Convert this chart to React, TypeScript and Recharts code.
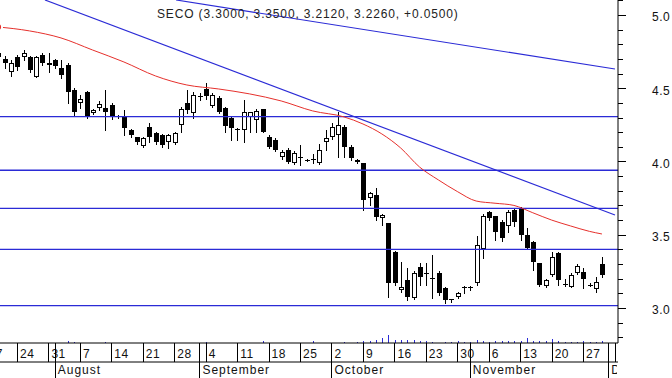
import { Bar, ComposedChart, Line, ReferenceLine, XAxis, YAxis } from "recharts";

// trading-day index i = 0 is Jul 19; one entry per session up to Nov 30
const open = [
  4.74, 4.7, 4.61, 4.71, 4.71, 4.71, 4.577, 4.727, 4.672, 4.69,
  4.638, 4.659, 4.488, 4.399, 4.474, 4.331, 4.365, 4.365, 4.386, 4.31,
  4.304, 4.215, 4.167, 4.106, 4.235, 4.195, 4.18, 4.133, 4.126, 4.249,
  4.4, 4.331, 4.44, 4.495, 4.379, 4.433, 4.365, 4.297, 4.215, 4.215,
  4.304, 4.28, 4.358, 4.167, 4.147, 4.031, 4.078, 3.99, 4.03, 4.01,
  4.01, 3.99, 4.133, 4.167, 4.18, 4.235, 4.099, 4.01, 3.99, 3.751,
  3.771, 3.614, 3.58, 3.382, 3.123, 3.191, 3.068, 3.28, 3.24, 3.205,
  3.239, 3.137, 3.055, 3.075, 3.137, 3.137, 3.171, 3.403, 3.655, 3.628,
  3.587, 3.56, 3.669, 3.683, 3.498, 3.451, 3.307, 3.15, 3.225, 3.375,
  3.164, 3.143, 3.239, 3.246, 3.157, 3.13, 3.3,
];
const high = [
  4.76, 4.72, 4.69, 4.73, 4.76, 4.72, 4.72, 4.74, 4.741, 4.7,
  4.693, 4.67, 4.5, 4.454, 4.48, 4.36, 4.41, 4.488, 4.4, 4.32,
  4.35, 4.22, 4.17, 4.17, 4.263, 4.2, 4.19, 4.19, 4.2, 4.37,
  4.488, 4.474, 4.47, 4.536, 4.47, 4.45, 4.37, 4.31, 4.229, 4.42,
  4.34, 4.36, 4.36, 4.18, 4.16, 4.08, 4.09, 4.07, 4.11, 4.02,
  4.05, 4.12, 4.215, 4.26, 4.338, 4.25, 4.11, 4.02, 3.99, 3.79,
  3.819, 3.64, 3.58, 3.39, 3.314, 3.273, 3.25, 3.307, 3.307, 3.36,
  3.25, 3.14, 3.06, 3.11, 3.15, 3.15, 3.491, 3.64, 3.66, 3.63,
  3.6, 3.67, 3.683, 3.69, 3.546, 3.46, 3.31, 3.2, 3.382, 3.382,
  3.2, 3.24, 3.3, 3.27, 3.17, 3.212, 3.35,
];
const low = [
  4.7, 4.64, 4.58, 4.625, 4.69, 4.61, 4.577, 4.66, 4.611, 4.64,
  4.57, 4.4, 4.32, 4.365, 4.3, 4.325, 4.35, 4.215, 4.29, 4.3,
  4.18, 4.17, 4.12, 4.1, 4.133, 4.12, 4.1, 4.092, 4.12, 4.2,
  4.33, 4.297, 4.42, 4.427, 4.37, 4.33, 4.2, 4.147, 4.147, 4.133,
  4.2, 4.2, 4.2, 4.09, 4.07, 4.02, 3.99, 3.98, 3.976, 4.0,
  3.99, 3.98, 4.078, 4.15, 4.03, 4.031, 4.01, 3.99, 3.669, 3.703,
  3.6, 3.567, 3.075, 3.16, 3.109, 3.055, 3.06, 3.157, 3.157, 3.068,
  3.09, 3.034, 3.04, 3.068, 3.1, 3.12, 3.16, 3.341, 3.6, 3.464,
  3.46, 3.52, 3.56, 3.464, 3.4, 3.259, 3.15, 3.14, 3.22, 3.16,
  3.15, 3.14, 3.23, 3.137, 3.15, 3.109, 3.212,
];
const close = [
  4.71, 4.67, 4.67, 4.645, 4.74, 4.625, 4.713, 4.672, 4.659, 4.65,
  4.59, 4.474, 4.338, 4.427, 4.304, 4.352, 4.39, 4.338, 4.304, 4.312,
  4.229, 4.18, 4.133, 4.16, 4.167, 4.133, 4.113, 4.181, 4.195, 4.358,
  4.352, 4.454, 4.445, 4.447, 4.454, 4.338, 4.242, 4.229, 4.22, 4.338,
  4.338, 4.345, 4.201, 4.099, 4.078, 4.065, 3.997, 4.058, 4.025, 4.012,
  4.015, 4.078, 4.16, 4.235, 4.25, 4.099, 4.024, 3.997, 3.737, 3.785,
  3.621, 3.635, 3.171, 3.171, 3.143, 3.075, 3.239, 3.212, 3.235, 3.208,
  3.102, 3.055, 3.058, 3.102, 3.14, 3.14, 3.43, 3.628, 3.614, 3.519,
  3.478, 3.655, 3.587, 3.498, 3.41, 3.314, 3.157, 3.191, 3.348, 3.191,
  3.166, 3.225, 3.287, 3.198, 3.159, 3.178, 3.226,
];
// moving average, every few sessions
const ma = [
  4.918, null, null, null, null, 4.891, null, null, null, null,
  4.843, null, null, null, null, 4.761, null, null, null, null,
  4.679, null, null, null, null, 4.584, null, null, null, null,
  4.522, null, null, null, null, 4.495, null, null, null, null,
  4.461, null, null, null, null, 4.413, null, null, null, null,
  4.345, null, null, null, null, 4.304, null, null, 4.256, null,
  null, 4.188, null, null, 4.092, null, null, 3.962, null, null,
  3.874, null, null, 3.795, null, null, 3.73, null, null, 3.715,
  null, null, 3.7, null, null, 3.65, null, null, 3.6, null,
  null, 3.56, null, null, 3.523, null, 3.505,
];
// volume (thousands)
const volume = [
  0, 0, 0, 0, 0, 0, 0, 0, 0, 0,
  0, 80, 40, 0, 0, 0, 0, 40, 0, 0,
  0, 0, 0, 0, 0, 0, 0, 0, 0, 0,
  0, 0, 0, 40, 0, 0, 0, 0, 0, 0,
  0, 0, 80, 0, 0, 0, 0, 0, 0, 0,
  80, 0, 0, 0, 0, 40, 0, 40, 80, 80,
  120, 200, 320, 120, 120, 120, 120, 80, 80, 40,
  0, 40, 40, 80, 40, 40, 120, 80, 40, 80,
  80, 80, 80, 80, 200, 80, 80, 80, 160, 80,
  40, 40, 40, 80, 40, 40, 80,
];

const weekTicks = [-2, 3, 8, 13, 18, 23, 28, 33, 38, 43, 48, 53, 58, 63, 68, 73, 78, 83, 88, 93, 98];
const weekLabels = ["17", "24", "31", "7", "14", "21", "28", "4", "11", "18", "25", "2", "9", "16", "23", "30", "6", "13", "20", "27", "4"];
const monthTicks = [9, 32, 53, 75, 97];
const monthLabels = ["August", "September", "October", "November", "December"];
const priceTicks = [
  2.8, 2.9, 3.0, 3.1, 3.2, 3.3, 3.4, 3.5, 3.6, 3.7, 3.8, 3.9,
  4.0, 4.1, 4.2, 4.3, 4.4, 4.5, 4.6, 4.7, 4.8, 4.9, 5.0, 5.1,
];
const levels = [4.306, 3.94, 3.68, 3.4, 3.016];
const upperTrend = [{ i: 28.3, v: 5.102 }, { i: 98.07, v: 4.631 }];
const lowerTrend = [{ i: 7.45, v: 5.102 }, { i: 98.07, v: 3.635 }];
const title = "SECO (3.3000, 3.3500, 3.2120, 3.2260, +0.0500)";

const data = open.map((o, i) => ({
  i,
  o,
  h: high[i],
  l: low[i],
  c: close[i],
  ma: ma[i],
  vol: volume[i],
}));

const FONT = "'Liberation Sans', Arial, sans-serif";
const BLUE = "#2b2bd6";
const RED = "#e6302c";
const X_DOMAIN = [0.3, 98.55];
const PLOT_RIGHT = 618;

function Candle(props: any) {
  const { x, y, width, height, payload } = props;
  if (!payload || !Number.isFinite(x) || !Number.isFinite(y)) return null;
  const top = Math.min(y, y + height);
  const bottom = Math.max(y, y + height);
  const { o, h, l, c } = payload;
  const span = h - l;
  const py = (v: number) => (span > 0 ? top + ((h - v) / span) * (bottom - top) : top);
  const cx = Math.round(x + width / 2);
  const bTop = Math.round(py(Math.max(o, c)));
  const bBot = Math.round(py(Math.min(o, c)));
  const bh = Math.max(1, bBot - bTop);
  const up = c > o;
  return (
    <g>
      <line x1={cx + 0.5} x2={cx + 0.5} y1={Math.round(top)} y2={Math.round(bottom) + 1} stroke="#000" />
      {up && bh > 2 ? (
        <rect x={cx - 1.5} y={bTop + 0.5} width={4} height={bh - 1} fill="#fff" stroke="#000" />
      ) : (
        <rect x={cx - 2} y={bTop} width={5} height={bh} fill="#000" />
      )}
    </g>
  );
}

function VolBar(props: any) {
  const { x, y, width, height } = props;
  if (!Number.isFinite(x) || !height) return null;
  return <rect x={Math.round(x + width / 2)} y={y} width={1} height={height} fill={BLUE} />;
}

function DayTick(props: any) {
  const { x, y, payload } = props;
  const k = weekTicks.indexOf(payload.value);
  const xx = Math.round(x) + 0.5;
  const id = `dayclip${k}`;
  return (
    <g>
      <defs>
        <clipPath id={id}>
          <rect x={0} y={y} width={PLOT_RIGHT - 1} height={19} />
        </clipPath>
      </defs>
      <line x1={xx} x2={xx} y1={y} y2={y + 19} stroke="#000" />
      <text x={x + 3} y={y + 15} fontSize={12} fontFamily={FONT} fill="#111" letterSpacing={0.5} clipPath={`url(#${id})`}>
        {weekLabels[k] ?? ""}
      </text>
    </g>
  );
}

function MonthTick(props: any) {
  const { x, y, payload } = props;
  const k = monthTicks.indexOf(payload.value);
  const xx = Math.round(x) + 0.5;
  const id = `monthclip${k}`;
  return (
    <g>
      <defs>
        <clipPath id={id}>
          <rect x={0} y={y} width={PLOT_RIGHT - 1} height={16} />
        </clipPath>
      </defs>
      <line x1={xx} x2={xx} y1={y - 19} y2={y + 16} stroke="#000" />
      <text x={x + 3} y={y + 12} fontSize={12} fontFamily={FONT} fill="#111" letterSpacing={1} clipPath={`url(#${id})`}>
        {monthLabels[k] ?? ""}
      </text>
    </g>
  );
}

function PriceTick(props: any) {
  const { x, y, payload } = props;
  const v = payload.value;
  const major = Math.abs(v * 2 - Math.round(v * 2)) < 1e-6;
  const yy = Math.round(y) + 0.5;
  return (
    <g>
      <line x1={x} x2={x + (major ? 8 : 5)} y1={yy} y2={yy} stroke="#000" />
      {major && (
        <text x={x + 34} y={y + 6.5} fontSize={12} fontFamily={FONT} fill="#111" letterSpacing={0.5}>
          {v.toFixed(1)}
        </text>
      )}
    </g>
  );
}

export default function App() {
  return (
    <div style={{ position: "absolute", left: 0, top: 0, width: 672, height: 378, background: "#fff" }}>
      <ComposedChart
        width={672}
        height={378}
        data={data}
        margin={{ top: 0, right: 0, bottom: 0, left: 0 }}
        style={{ fontFamily: FONT }}
      >
        <XAxis
          xAxisId="day"
          dataKey="i"
          type="number"
          domain={X_DOMAIN}
          allowDataOverflow
          ticks={weekTicks}
          interval={0}
          height={19}
          tickSize={0}
          tickMargin={0}
          tickLine={false}
          axisLine={{ stroke: "#000" }}
          tick={DayTick}
        />
        <XAxis
          xAxisId="month"
          dataKey="i"
          type="number"
          domain={X_DOMAIN}
          allowDataOverflow
          ticks={monthTicks}
          interval={0}
          height={16}
          tickSize={0}
          tickMargin={0}
          tickLine={false}
          axisLine={{ stroke: "#000" }}
          tick={MonthTick}
        />
        <XAxis xAxisId="vol" dataKey="i" type="number" domain={X_DOMAIN} allowDataOverflow hide />
        <YAxis
          yAxisId="price"
          orientation="right"
          width={54}
          domain={[2.761, 5.102]}
          allowDataOverflow
          ticks={priceTicks}
          interval={0}
          tickSize={0}
          tickMargin={0}
          tickLine={false}
          axisLine={{ stroke: "#000" }}
          tick={PriceTick}
        />
        <YAxis yAxisId="vol" domain={[0, 13720]} allowDataOverflow hide />

        {levels.map((v) => (
          <ReferenceLine key={v} xAxisId="day" yAxisId="price" y={v} stroke={BLUE} strokeWidth={1.3} />
        ))}
        {[upperTrend, lowerTrend].map((t, k) => (
          <ReferenceLine
            key={k}
            xAxisId="day"
            yAxisId="price"
            segment={[{ x: t[0].i, y: t[0].v }, { x: t[1].i, y: t[1].v }]}
            ifOverflow="hidden"
            stroke={BLUE}
            strokeWidth={1.2}
          />
        ))}

        <Bar
          xAxisId="vol"
          yAxisId="vol"
          dataKey="vol"
          barSize={1}
          shape={VolBar}
          isAnimationActive={false}
        />
        <Line
          xAxisId="day"
          yAxisId="price"
          type="monotone"
          dataKey="ma"
          stroke={RED}
          strokeWidth={1}
          dot={false}
          connectNulls
          isAnimationActive={false}
        />
        <Bar
          xAxisId="day"
          yAxisId="price"
          dataKey={(d: any) => [d.l, d.h]}
          barSize={5}
          shape={Candle}
          isAnimationActive={false}
        />
      </ComposedChart>
      <svg
        width={672}
        height={378}
        style={{ position: "absolute", left: 0, top: 0, pointerEvents: "none" }}
      >
        <text x={157} y={17.5} fontSize={12} fontFamily={FONT} fill="#222" letterSpacing={0.85}>
          {title}
        </text>
      </svg>
    </div>
  );
}
